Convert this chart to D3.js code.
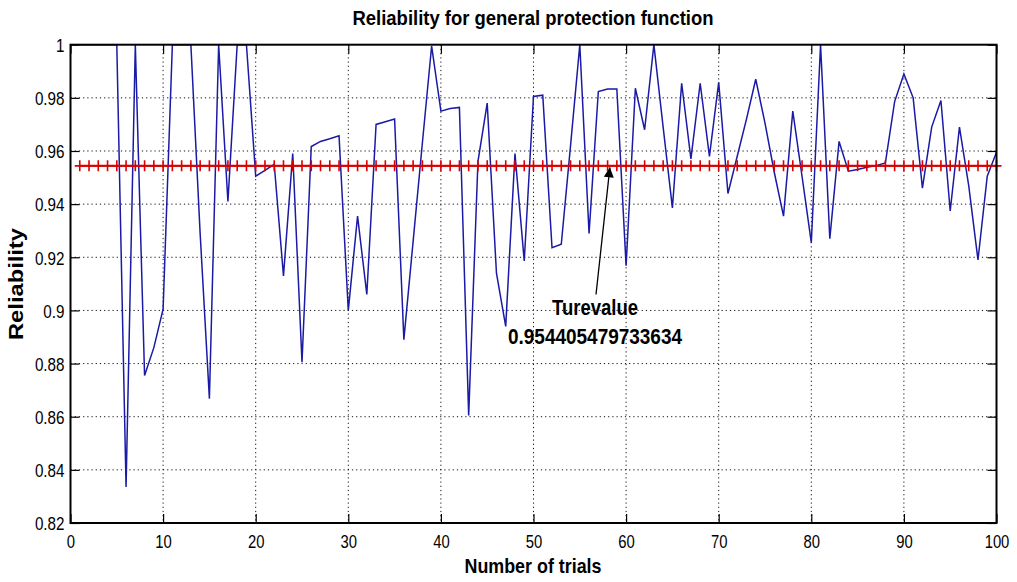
<!DOCTYPE html>
<html>
<head>
<meta charset="utf-8">
<script src="https://cdn.jsdelivr.net/npm/d3@7"></script>
<style>
  html, body { margin: 0; padding: 0; background: #fff; }
  svg { display: block; }
  text { font-family: "Liberation Sans", Arial, sans-serif; fill: #000; }
</style>
</head>
<body>
<svg id="chart" width="1017" height="582"></svg>
<script>
// ---- data ----
const reliability = [
  1.0, 1.0, 1.0, 1.0, 1.0, 0.8336, 1.0, 0.8755, 0.886, 0.9005,
  1.0, 1.0, 1.0, 0.929, 0.8668, 1.0, 0.941, 1.0, 1.0, 0.9505,
  0.9527, 0.955, 0.913, 0.959, 0.8805, 0.9617, 0.9636, 0.9646, 0.9657, 0.9,
  0.9355, 0.906, 0.970, 0.971, 0.972, 0.889, 0.926, 0.963, 0.9995, 0.975,
  0.976, 0.9764, 0.8605, 0.956, 0.978, 0.914, 0.894, 0.959, 0.9186, 0.9805,
  0.981, 0.9236, 0.9249, 0.962, 1.0, 0.929, 0.9824, 0.9833, 0.9833, 0.9168,
  0.9836, 0.968, 1.0, 0.969, 0.9386, 0.9855, 0.957, 0.9855, 0.958, 0.9858,
  0.944, 0.958, 0.972, 0.987, 0.9705, 0.952, 0.9355, 0.975, 0.9505, 0.9255,
  1.0, 0.927, 0.9636, 0.9524, 0.953, 0.9539, 0.9545, 0.9555, 0.9786, 0.989,
  0.98, 0.946, 0.969, 0.979, 0.9374, 0.969, 0.947, 0.919, 0.9505, 0.9595
];
const trueValue = 0.954405479733634;
const xTicks = [0, 10, 20, 30, 40, 50, 60, 70, 80, 90, 100];
const yTicks = [0.82, 0.84, 0.86, 0.88, 0.9, 0.92, 0.94, 0.96, 0.98, 1];
const titleText = "Reliability for general protection function";
const xLabelText = "Number of trials";
const yLabelText = "Reliability";
const annotLines = ["Turevalue", "0.954405479733634"];

// ---- layout ----
const L = 70.5, R = 996.5, T = 44.7, B = 523;
const svg = d3.select("#chart");
const x = d3.scaleLinear().domain([0, 100]).range([L, R]);
const y = d3.scaleLinear().domain([0.82, 1]).range([B, T]);

function squeeze(sel, factor) {
  sel.each(function () {
    const w = this.getComputedTextLength();
    this.setAttribute("textLength", w * factor);
    this.setAttribute("lengthAdjust", "spacingAndGlyphs");
  });
}
function fixLen(sel, len) {
  sel.attr("textLength", len).attr("lengthAdjust", "spacingAndGlyphs");
}

svg.append("rect").attr("width", 1017).attr("height", 582).attr("fill", "#fff");

// grid
const grid = svg.append("g").attr("stroke", "#111").attr("stroke-width", 1)
  .attr("stroke-dasharray", "1.2,3").attr("fill", "none");
grid.selectAll(".gx").data(xTicks.slice(1, -1)).join("line")
  .attr("x1", d => x(d)).attr("x2", d => x(d)).attr("y1", T).attr("y2", B);
grid.selectAll(".gy").data(yTicks.slice(1, -1)).join("line")
  .attr("y1", d => y(d)).attr("y2", d => y(d)).attr("x1", L).attr("x2", R);

// clip
svg.append("clipPath").attr("id", "clip").append("rect")
  .attr("x", L).attr("y", T).attr("width", R - L).attr("height", B - T);

// reliability series
const pts = reliability.map((v, i) => [i + 1, v]);
svg.append("path").datum(pts)
  .attr("clip-path", "url(#clip)")
  .attr("fill", "none").attr("stroke", "#1a1aa6").attr("stroke-width", 1.5)
  .attr("stroke-linejoin", "miter")
  .attr("d", d3.line().x(d => x(d[0])).y(d => y(d[1])));

// true value line with + markers
const tv = reliability.map((v, i) => [i + 1, trueValue]);
svg.append("path").datum(tv)
  .attr("fill", "none").attr("stroke", "#d80000").attr("stroke-width", 2)
  .attr("d", d3.line().x(d => x(d[0])).y(d => y(d[1])));
const plus = svg.append("g").attr("stroke", "#d80000").attr("stroke-width", 1.6);
plus.selectAll("path").data(tv).join("path")
  .attr("d", d => `M${x(d[0]) - 5},${y(d[1])}H${x(d[0]) + 5}M${x(d[0])},${y(d[1]) - 5.5}V${y(d[1]) + 5.5}`);

// axes frame and inward ticks
const axG = svg.append("g");
const bottomAxis = d3.axisBottom(x).tickValues(xTicks).tickSize(-9).tickPadding(0).tickFormat(d3.format("d"));
const topAxis = d3.axisTop(x).tickValues(xTicks).tickSize(-9).tickFormat("");
const leftAxis = d3.axisLeft(y).tickValues(yTicks).tickSize(-9).tickPadding(0).tickFormat(d => d3.format("")(+d.toFixed(2)));
const rightAxis = d3.axisRight(y).tickValues(yTicks).tickSize(-9).tickFormat("");

function styleAxis(g) {
  g.select(".domain").remove();
  g.selectAll(".tick line").attr("stroke", "#000").attr("stroke-width", 1.2);
}
const gb = axG.append("g").attr("transform", `translate(0,${B})`).call(bottomAxis).call(styleAxis);
const gt = axG.append("g").attr("transform", `translate(0,${T})`).call(topAxis).call(styleAxis);
const gl = axG.append("g").attr("transform", `translate(${L},0)`).call(leftAxis).call(styleAxis);
const gr = axG.append("g").attr("transform", `translate(${R},0)`).call(rightAxis).call(styleAxis);

gb.selectAll(".tick text").attr("font-size", 19).attr("y", 24.5).attr("dy", 0)
  .attr("font-family", "Liberation Sans, Arial, sans-serif").attr("fill", "#000").call(squeeze, 0.78);
gl.selectAll(".tick text").attr("font-size", 19).attr("x", -6).attr("dy", "0.36em")
  .attr("font-family", "Liberation Sans, Arial, sans-serif").attr("fill", "#000").call(squeeze, 0.8);

svg.append("rect").attr("x", L).attr("y", T).attr("width", R - L).attr("height", B - T)
  .attr("fill", "none").attr("stroke", "#000").attr("stroke-width", 2);

// titles
svg.append("text").attr("x", 533).attr("y", 25).attr("text-anchor", "middle")
  .attr("font-size", 20).attr("font-weight", "bold").text(titleText).call(fixLen, 361);
svg.append("text").attr("x", 533).attr("y", 573).attr("text-anchor", "middle")
  .attr("font-size", 21).attr("font-weight", "bold").text(xLabelText).call(fixLen, 137);
svg.append("text").attr("transform", "translate(23,284) rotate(-90)").attr("text-anchor", "middle")
  .attr("font-size", 20).attr("font-weight", "bold").text(yLabelText).call(fixLen, 112);

// annotation
const tipX = 58.25, tipV = trueValue, tailX = 56.75, tailV = 0.906;
svg.append("defs").append("marker").attr("id", "arrow")
  .attr("viewBox", "0 0 10 10").attr("refX", 10).attr("refY", 5)
  .attr("markerWidth", 16).attr("markerHeight", 10).attr("markerUnits", "userSpaceOnUse")
  .attr("orient", "auto")
  .append("path").attr("d", "M0,0L10,5L0,10Z").attr("fill", "#000");
svg.append("line")
  .attr("x1", x(tailX)).attr("y1", y(tailV))
  .attr("x2", x(tipX)).attr("y2", y(tipV) + 1.5)
  .attr("stroke", "#000").attr("stroke-width", 1.3).attr("marker-end", "url(#arrow)");
svg.append("text").attr("x", 595).attr("y", 315).attr("text-anchor", "middle")
  .attr("font-size", 22).attr("font-weight", "bold").text(annotLines[0]).call(fixLen, 86);
svg.append("text").attr("x", 595).attr("y", 344).attr("text-anchor", "middle")
  .attr("font-size", 22).attr("font-weight", "bold").text(annotLines[1]).call(fixLen, 174);
</script>
</body>
</html>
